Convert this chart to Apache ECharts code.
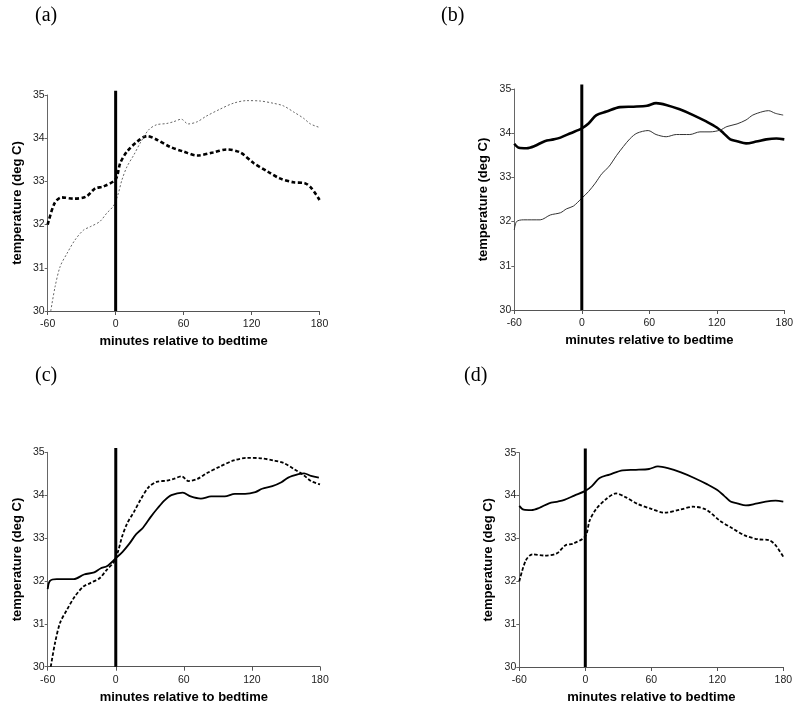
<!DOCTYPE html>
<html>
<head>
<meta charset="utf-8">
<script src="https://cdn.jsdelivr.net/npm/echarts@6/dist/echarts.min.js"></script>
<style>
html,body{margin:0;padding:0;background:#fff;}
#chart{width:800px;height:710px;}
</style>
</head>
<body>
<div id="chart"></div>
<script>
// ---- Data ----
const xTicks = [-60, 0, 60, 120, 180];
const yTicks = [30, 31, 32, 33, 34, 35];
const bedtimeMarker = [[0, 30], [0, 35.1]];

// Series A1 (thick dashed in a, dashed in d)
const a1Min  = [-60,-54,-48,-37,-26,-18,-11,0,4,10,19,28,36,48,60,72,86,98,110,122,134,145,157,167,173,180];
const a1Temp = [32.0,32.49,32.63,32.6,32.65,32.84,32.88,33.05,33.42,33.69,33.92,34.05,33.97,33.8,33.69,33.6,33.67,33.74,33.67,33.42,33.23,33.07,32.98,32.96,32.84,32.57];

// Series A2 (thin dotted in a, dashed in c)
const a2Min  = [-57.3,-53.5,-49,-43,-36,-28.5,-22.5,-14,-8,-2,2,5.5,10,16,21.5,29,36,45,51,58,64,72,80,92,104,116,128,139,148,157,166,172,180];
const a2Temp = [30.0,30.56,31.03,31.33,31.64,31.87,31.95,32.07,32.26,32.43,32.69,33.03,33.34,33.61,33.88,34.19,34.31,34.34,34.38,34.44,34.33,34.38,34.51,34.67,34.81,34.87,34.86,34.81,34.75,34.61,34.46,34.33,34.25];

// Series B1 (thick solid in b, solid in d)
const b1Min  = [-60,-56,-49,-42,-33,-25,-19,-10,0,6,13,22,34,46,58,66,75,87,99,111,120,126,132,138,146,155,164,173,180];
const b1Temp = [33.76,33.67,33.66,33.71,33.82,33.86,33.9,34.0,34.11,34.22,34.41,34.49,34.59,34.6,34.62,34.68,34.64,34.54,34.41,34.26,34.13,34.0,33.86,33.82,33.77,33.81,33.86,33.88,33.86];

// Series B2 (thin solid in b, solid in c)
const b2Min  = [-60,-58,-52,-37,-28,-19,-13.5,-7.5,0,6,12,18,24,31,37,43,49,59,66,75,84,96,105,114,123,129,138,146,152,161,166,172,179];
const b2Temp = [31.81,32.0,32.04,32.04,32.15,32.2,32.29,32.35,32.53,32.68,32.87,33.09,33.24,33.5,33.7,33.88,34.0,34.06,33.97,33.92,33.97,33.97,34.03,34.03,34.07,34.15,34.21,34.3,34.41,34.49,34.51,34.45,34.41];

const panelLabels = ['(a)', '(b)', '(c)', '(d)'];
const xTitle = 'minutes relative to bedtime';
const yTitle = 'temperature (deg C)';

// ---- Build ----
function pts(xs, ys) { return xs.map((x, i) => [x, ys[i]]); }

const styles = {
  thickDashed: {color:'#000', width:2.6, type:[4,2.5]},
  thinDotted:  {color:'#666', width:1, type:[2,2]},
  thickSolid:  {color:'#000', width:2.6, type:'solid'},
  thinSolid:   {color:'#333', width:1, type:'solid'},
  medDashed:   {color:'#000', width:1.8, type:[3.5,2]},
  medSolid:    {color:'#000', width:1.8, type:'solid'}
};

const panels = [
  {grid:{left:47.7, top:95, width:271.8, height:216}, title:[35,6],
   lines:[[a1Min,a1Temp,'thickDashed'],[a2Min,a2Temp,'thinDotted']]},
  {grid:{left:514.3, top:89, width:270, height:221}, title:[441,6],
   lines:[[b1Min,b1Temp,'thickSolid'],[b2Min,b2Temp,'thinSolid']]},
  {grid:{left:47.7, top:452.3, width:272.3, height:214.4}, title:[35,366],
   lines:[[b2Min,b2Temp,'medSolid'],[a2Min,a2Temp,'medDashed']]},
  {grid:{left:519.3, top:452.7, width:264, height:214.3}, title:[464,366],
   lines:[[b1Min,b1Temp,'medSolid'],[a1Min,a1Temp,'medDashed']]}
];

const grid = [], xAxis = [], yAxis = [], series = [], title = [];
const labelFont = {fontFamily:'Liberation Sans', fontSize:10.5, color:'#222'};

panels.forEach((p, i) => {
  grid.push(Object.assign({containLabel:false}, p.grid));
  title.push({text: panelLabels[i], left: p.title[0], top: p.title[1], padding:0,
    textStyle:{fontFamily:'Liberation Serif', fontSize:20, fontWeight:'normal', color:'#000'}});
  xAxis.push({
    type:'value', gridIndex:i, min:xTicks[0], max:xTicks[xTicks.length-1], interval:60,
    axisLine:{show:true, onZero:false, lineStyle:{color:'#555', width:1}},
    axisTick:{show:true, length:4, lineStyle:{color:'#555'}},
    splitLine:{show:false},
    axisLabel:Object.assign({margin:8}, labelFont),
    name:xTitle, nameLocation:'middle', nameGap:24,
    nameTextStyle:{fontFamily:'Liberation Sans', fontWeight:'bold', fontSize:13, color:'#000', verticalAlign:'top'}
  });
  yAxis.push({
    type:'value', gridIndex:i, min:yTicks[0], max:yTicks[yTicks.length-1], interval:1,
    axisLine:{show:true, onZero:false, lineStyle:{color:'#666', width:1}},
    axisTick:{show:true, length:3, lineStyle:{color:'#666'}},
    splitLine:{show:false},
    axisLabel:Object.assign({margin:3}, labelFont),
    name:yTitle, nameLocation:'middle', nameGap:24,
    nameTextStyle:{fontFamily:'Liberation Sans', fontWeight:'bold', fontSize:13, color:'#000'}
  });
  p.lines.forEach(l => {
    series.push({type:'line', xAxisIndex:i, yAxisIndex:i, data:pts(l[0], l[1]),
      symbol:'none', smooth:0.3, lineStyle:styles[l[2]], silent:true, z:3});
  });
  series.push({type:'line', xAxisIndex:i, yAxisIndex:i, data:bedtimeMarker, clip:false,
    symbol:'none', lineStyle:{color:'#000', width:3}, silent:true, z:4});
});

const chart = echarts.init(document.getElementById('chart'), null, {renderer:'canvas'});
chart.setOption({animation:false, backgroundColor:'#fff', title, grid, xAxis, yAxis, series});
</script>
</body>
</html>
